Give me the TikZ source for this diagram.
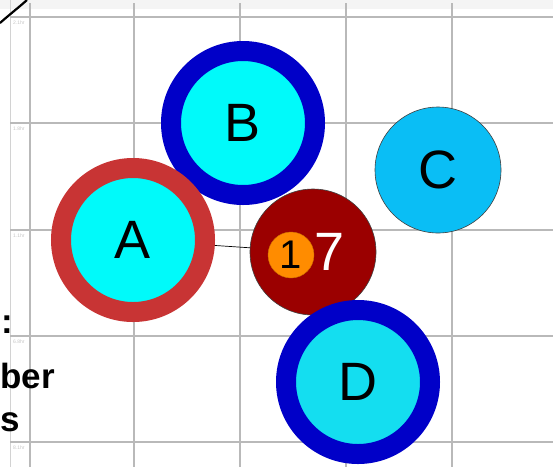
\documentclass[tikz,border=0pt]{standalone}
\usepackage{fontspec}
\setmainfont{Liberation Sans}
\definecolor{ringcyan}{RGB}{0,250,250}
\definecolor{dcyan}{RGB}{20,222,240}
\definecolor{ringblue}{RGB}{0,0,200}
\definecolor{ringred}{RGB}{200,52,52}
\definecolor{cblue}{RGB}{10,190,245}
\definecolor{darkred}{RGB}{155,0,0}
\definecolor{orng}{RGB}{255,140,0}
\begin{document}
\begin{tikzpicture}[x=1pt,y=-1pt,
  gridline/.style={draw=gray!55,line width=1.2pt},
  ring/.style={circle,inner sep=0pt,minimum size=144pt,line width=20pt,fill=ringcyan,
    font=\fontsize{54}{54}\selectfont},
  plain/.style={circle,inner sep=0pt,minimum size=126pt,draw=black!75,line width=0.6pt,
    font=\fontsize{54}{54}\selectfont},
  ticklab/.style={text=gray!45,font=\fontsize{5}{5}\selectfont,anchor=north west,inner sep=0pt},
  bigtext/.style={font=\bfseries\fontsize{35}{35}\selectfont,anchor=base west,inner sep=0pt}]
\useasboundingbox (0,0) rectangle (553,467);
\clip (0,0) rectangle (553,467);
\fill[white] (0,0) rectangle (553,467);
\fill[gray!9] (0,0) rectangle (553,9);
% grid
\draw[draw=gray!35,line width=1pt] (10,0) -- (10,467);
\foreach \x in {30,134,240,346,452} \draw[gridline] (\x,3) -- (\x,467);
\foreach \y in {17,123,230,336,442} \draw[gridline] (10,\y) -- (553,\y);
\node[ticklab] (t1) at (13,21) {2.1hr};
\node[ticklab] (t2) at (13,127) {1.8hr};
\node[ticklab] (t3) at (13,234) {1.1hr};
\node[ticklab] (t4) at (13,340) {6.8hr};
\node[ticklab] (t5) at (13,446) {8.1hr};
% top-left arc
\draw[line width=2.2pt] (0,23) .. controls (9,15) and (18,8) .. (27,0);
% left cut-off text
\node[bigtext] (c1) at (1,333) {:};
\node[bigtext] (c2) at (0,388) {ber};
\node[bigtext] (c3) at (0,431) {s};
% circles
\node[ring,draw=ringblue] (B) at (243,123) {B};
\node[ring,draw=ringred] (A) at (133,240) {A};
\node[plain,fill=cblue] (C) at (438,170) {C};
\node[plain,fill=darkred] (N) at (313,252) {};
\node[ring,draw=ringblue,fill=dcyan] (D) at (358,382) {D};
\node[circle,inner sep=0pt,minimum size=46pt,fill=orng,draw=orng!80!black,line width=0.4pt,
  font=\fontsize{40}{40}\selectfont] (o1) at (291,255) {1};
\node[inner sep=0pt,text=white,font=\fontsize{54}{54}\selectfont] (o7) at (330,252) {7};
\draw[line width=0.7pt] (A) -- (N);
\end{tikzpicture}
\end{document}
